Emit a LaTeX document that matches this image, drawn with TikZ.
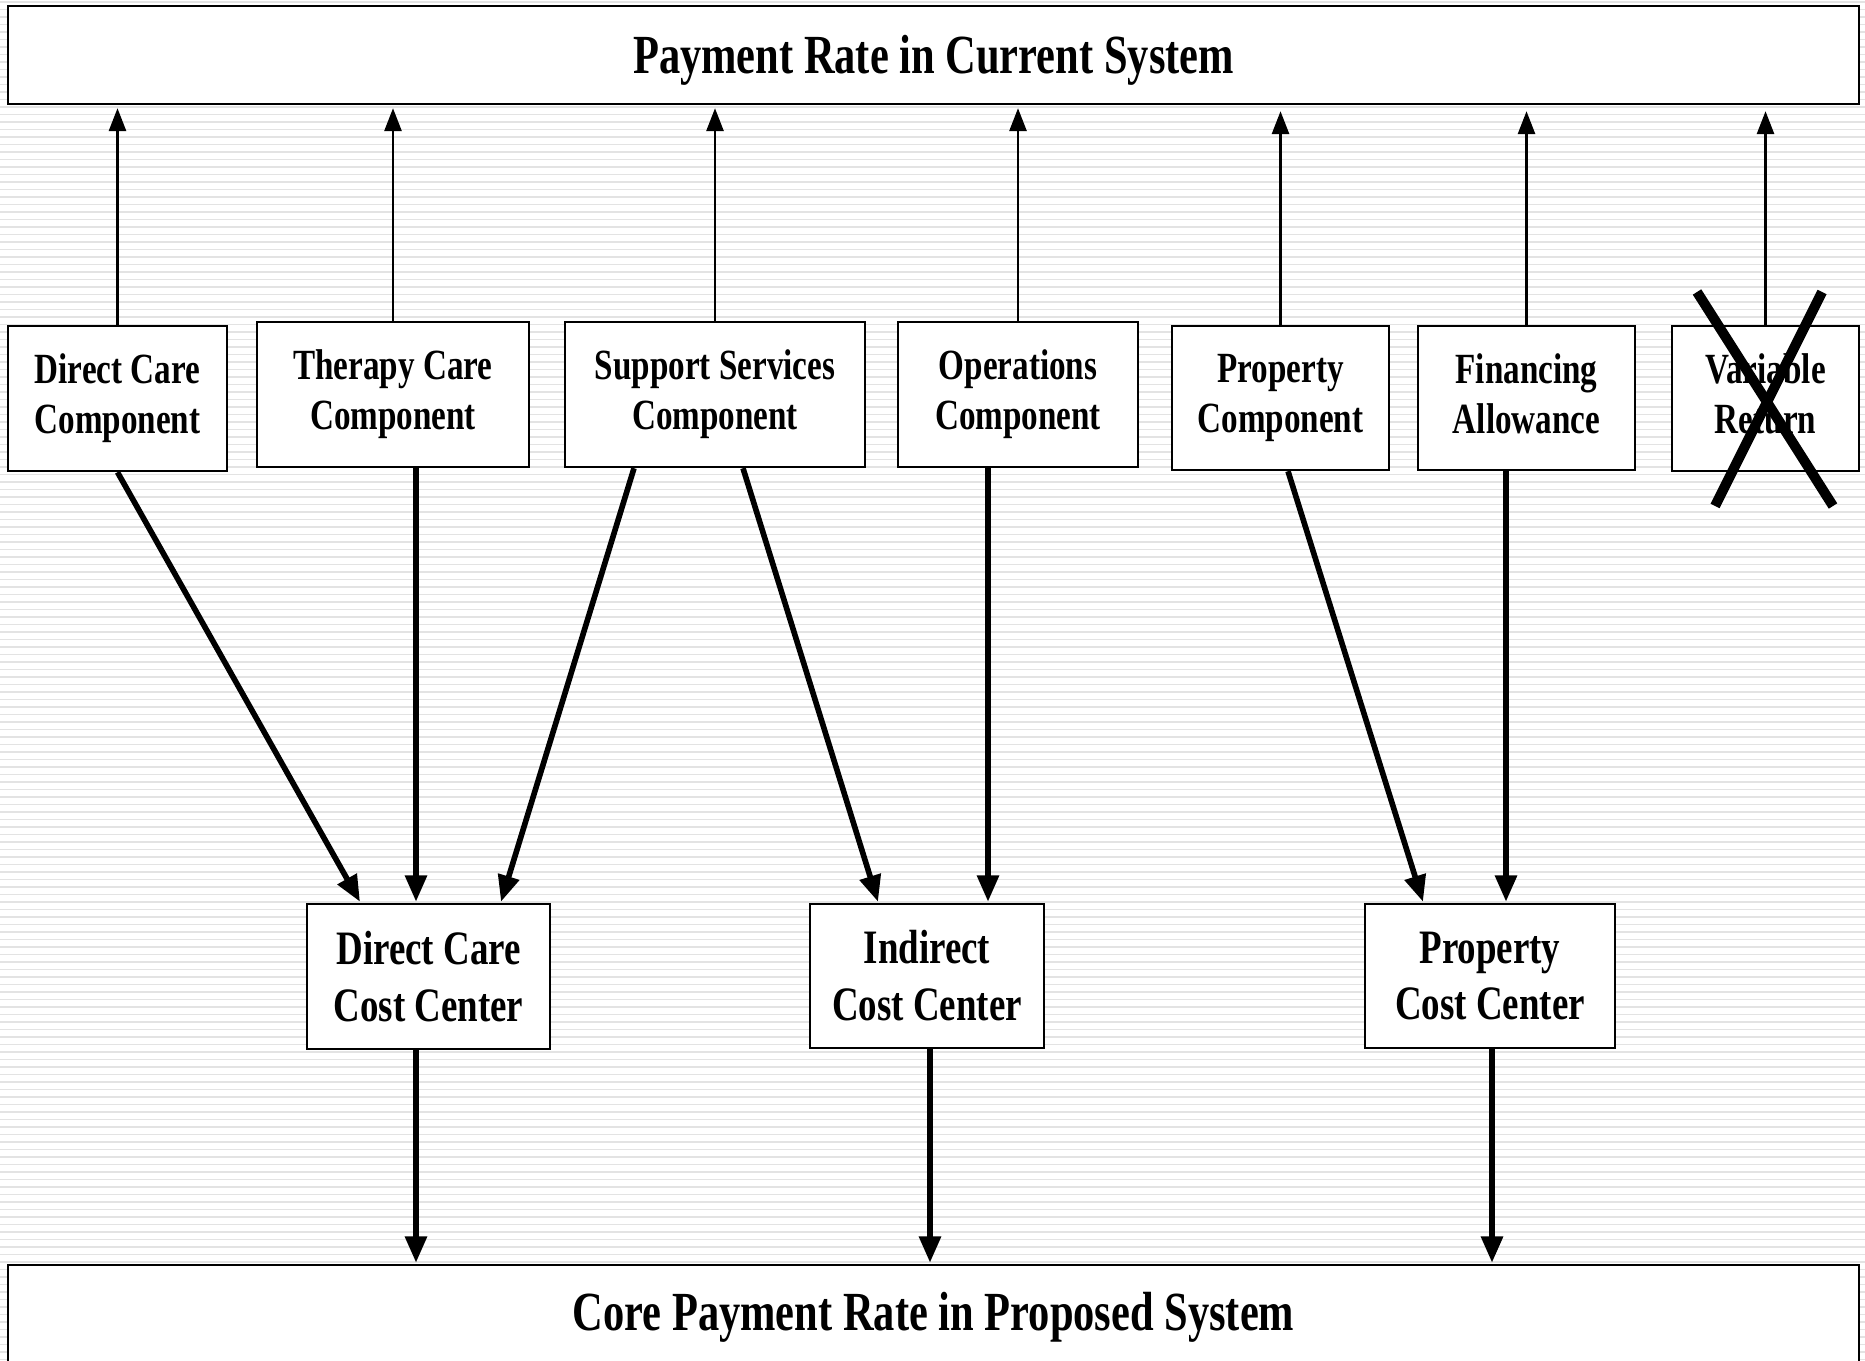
\documentclass[tikz,border=0pt]{standalone}
\usepackage{fontspec}
\setmainfont{Liberation Serif}[FakeStretch=0.77]
\usetikzlibrary{arrows.meta,calc}
\begin{document}
\begin{tikzpicture}[x=0.02cm,y=-0.02cm,
  box/.style={draw=black,line width=1.4pt,fill=white,inner sep=0pt,align=center,font=\bfseries},
  comp/.style={box,minimum height=145*0.02cm,font=\fontsize{24.5}{28.5}\selectfont\bfseries},
  cc/.style={box,minimum height=145*0.02cm,font=\fontsize{27.3}{32.4}\selectfont\bfseries},
  bigbox/.style={box},
  bigtext/.style={inner sep=0pt,font=\fontsize{31.4}{36}\selectfont\bfseries},
  thin/.style={line width=1.4pt,-{Triangle[length=13pt,width=9.7pt]}},
  thick/.style={line width=3.2pt,-{Triangle[length=15pt,width=12pt]}},
  cross/.style={line width=5.7pt,black}]
\useasboundingbox (0,0) rectangle (1865,1361);
\clip (0,0) rectangle (1865,1361);
\fill[white] (0,0) rectangle (1865,1361);
\foreach \i in {0,...,182} {
  \draw[black!11,line width=1.1pt] (0,{2+7.5*\i}) -- (1865,{2+7.5*\i});
}
% top and bottom boxes
\node[bigbox,minimum width=1851*0.02cm,minimum height=98*0.02cm] (top) at (933.5,55) {};
\node[bigtext] (toptext) at ($(top.center)+(0,5)$) {Payment Rate in Current System};
\node[bigbox,minimum width=1851*0.02cm,minimum height=100*0.02cm] (bot) at (933.5,1315) {};
\node[bigtext] (bottext) at ($(bot.center)+(0,2)$) {Core Payment Rate in Proposed System};
% components
\node[comp,minimum width=219*0.02cm] (dcc) at (117.5,398.5) {Direct Care\\Component};
\node[comp,minimum width=272*0.02cm] (tcc) at (393,394.5) {Therapy Care\\Component};
\node[comp,minimum width=300*0.02cm] (ssc) at (715,394.5) {Support Services\\Component};
\node[comp,minimum width=240*0.02cm] (oc) at (1018,394.5) {Operations\\Component};
\node[comp,minimum width=217*0.02cm,minimum height=144*0.02cm] (pc) at (1280.5,398) {Property\\Component};
\node[comp,minimum width=217*0.02cm,minimum height=144*0.02cm] (fa) at (1526.5,398) {Financing\\Allowance\vphantom{p}};
\node[comp,minimum width=187*0.02cm] (vr) at (1765.5,398.5) {Variable\\Return\vphantom{p}};
% cost centers
\node[cc,minimum width=243*0.02cm] (dccc) at (428.5,976.5) {Direct Care\\Cost Center};
\node[cc,minimum width=234*0.02cm,minimum height=144*0.02cm] (icc) at (927,976) {Indirect\\Cost Center};
\node[cc,minimum width=250*0.02cm,minimum height=144*0.02cm] (pcc) at (1490,976) {Property\\Cost Center};
% up arrows
\foreach \n in {dcc,tcc,ssc,oc} {
  \draw[thin] (\n.north) -- ($(\n.north |- top.south)+(0,3)$);
}
\foreach \n in {pc,fa,vr} {
  \draw[thin] (\n.north) -- ($(\n.north |- top.south)+(0,6)$);
}
% cross on variable return
\coordinate (x1) at (1697,292);
\coordinate (x2) at (1833,506);
\coordinate (x3) at (1822,292);
\coordinate (x4) at (1715,506);
\draw[cross] (x1) -- (x2);
\draw[cross] (x3) -- (x4);
% thick arrows
\draw[thick] (dcc.south) -- ($(dccc.north)+(-68.5,-1)$);
\draw[thick] ($(tcc.south)+(23,0)$) -- ($(dccc.north)+(-12.5,-1)$);
\draw[thick] ($(ssc.south)+(-81,0)$) -- ($(dccc.north)+(72.5,-1)$);
\draw[thick] ($(ssc.south)+(28,0)$) -- ($(icc.north)+(-49,-1)$);
\draw[thick] ($(oc.south)+(-30,0)$) -- ($(icc.north)+(61,-1)$);
\draw[thick] ($(pc.south)+(7.5,0)$) -- ($(pcc.north)+(-67,-1)$);
\draw[thick] ($(fa.south)+(-20.5,0)$) -- ($(pcc.north)+(16,-1)$);
\draw[thick] ($(dccc.south)+(-12.5,0)$) -- ($(dccc.south |- bot.north)+(-12.5,-1)$);
\draw[thick] ($(icc.south)+(3,0)$) -- ($(icc.south |- bot.north)+(3,-1)$);
\draw[thick] ($(pcc.south)+(2,0)$) -- ($(pcc.south |- bot.north)+(2,-1)$);
\end{tikzpicture}
\end{document}
